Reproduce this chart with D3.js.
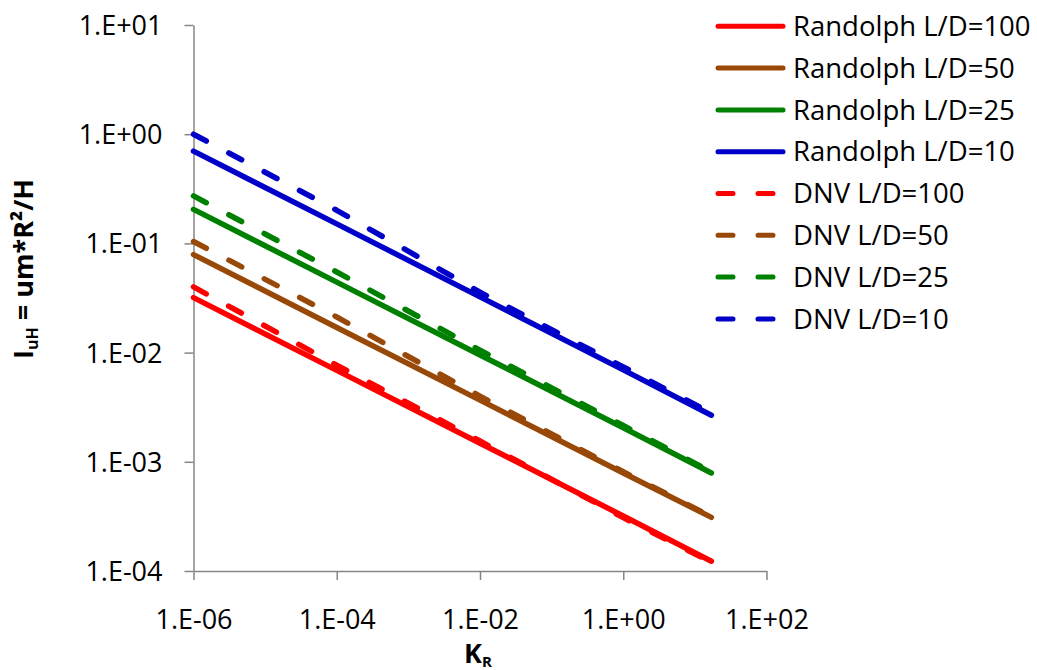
<!DOCTYPE html>
<head>
<meta charset="utf-8">
<style>
body { margin: 0; background: #fff; }
text { font-family: "Open Sans", Carlito, Calibri, sans-serif; fill: #000; }
.axis path, .axis line { stroke: #868686; stroke-width: 1.5; }
.axis text { font-size: 27px; }
.legend text { font-size: 27.5px; }
.title { font-weight: bold; font-size: 27px; }
</style>
</head>
<body>
<script src="https://cdn.jsdelivr.net/npm/d3@7"></script>
<script>

var width = 1037, height = 670;

// K_R values where the curves were read
var kr = [1e-6, 1e-4, 1e-2, 1, 17];

var randolph100 = [0.0319, 0.00687, 0.00148, 0.000319, 0.000123];
var randolph50  = [0.079, 0.0170, 0.00367, 0.00079, 0.000310];
var randolph25  = [0.205, 0.0442, 0.00952, 0.00205, 0.00079];
var randolph10  = [0.70, 0.151, 0.0324, 0.00695, 0.00267];
var dnv100 = [0.040, 0.00767, 0.00155, 0.000308, 0.000120];
var dnv50  = [0.104, 0.0212, 0.00399, 0.00081, 0.000315];
var dnv25  = [0.272, 0.0547, 0.01052, 0.00215, 0.00081];
var dnv10  = [1.0, 0.201, 0.0357, 0.0074, 0.00279];

var seriesNames = ["Randolph L/D=100", "Randolph L/D=50", "Randolph L/D=25", "Randolph L/D=10",
                   "DNV L/D=100", "DNV L/D=50", "DNV L/D=25", "DNV L/D=10"];
var seriesValues = [randolph100, randolph50, randolph25, randolph10, dnv100, dnv50, dnv25, dnv10];
var colors = ["#ff0000", "#984807", "#008000", "#0000c8", "#ff0000", "#984807", "#008000", "#0000c8"];
var dashed = [false, false, false, false, true, true, true, true];

var xTicks = [1e-6, 1e-4, 1e-2, 1, 1e2];
var yTicks = [1e-4, 1e-3, 1e-2, 1e-1, 1, 10];

var svg = d3.select("body").append("svg")
  .attr("width", width)
  .attr("height", height);

var x = d3.scaleLog().domain([1e-6, 1e2]).range([193.5, 766.5]);
var y = d3.scaleLog().domain([1e-4, 10]).range([571, 25]);

// Excel style "1.E+01"
function sci(v) {
  var e = Math.round(Math.log10(v));
  var s = e < 0 ? "-" : "+";
  var a = Math.abs(e);
  return "1.E" + s + (a < 10 ? "0" + a : a);
}

var xAxis = svg.append("g")
  .attr("class", "axis")
  .attr("transform", "translate(0,571)")
  .call(d3.axisBottom(x).tickValues(xTicks).tickFormat(sci).tickSize(9).tickSizeOuter(0));
xAxis.selectAll("text").attr("y", 49).attr("dy", "0.35em");

var yAxis = svg.append("g")
  .attr("class", "axis")
  .attr("transform", "translate(193.5,0)")
  .call(d3.axisLeft(y).tickValues(yTicks).tickFormat(sci).tickSize(9).tickSizeOuter(0).tickPadding(22));
yAxis.selectAll("text").attr("dy", "0.35em");

var line = d3.line()
  .x(function(d) { return x(d[0]); })
  .y(function(d) { return y(d[1]); });

seriesValues.forEach(function(vals, i) {
  var pts = kr.map(function(k, j) { return [k, vals[j]]; });
  svg.append("path")
    .datum(pts)
    .attr("d", line)
    .attr("fill", "none")
    .attr("stroke", colors[i])
    .attr("stroke-width", 5.5)
    .attr("stroke-linecap", "round")
    .attr("stroke-linejoin", "round")
    .attr("stroke-dasharray", dashed[i] ? "14.5,25.5" : null);
});

// legend
var legend = svg.append("g").attr("class", "legend")
  .selectAll("g")
  .data(seriesNames)
  .enter().append("g")
  .attr("transform", function(d, i) { return "translate(0," + (26.3 + i * 41.8) + ")"; });

legend.append("line")
  .attr("x1", 718)
  .attr("x2", 783)
  .attr("stroke", function(d, i) { return colors[i]; })
  .attr("stroke-width", 5)
  .attr("stroke-linecap", "round")
  .attr("stroke-dasharray", function(d, i) { return dashed[i] ? "15,25" : null; });

legend.append("text")
  .attr("x", 793)
  .attr("dy", "0.35em")
  .text(function(d) { return d; });

// axis titles
var xt = svg.append("text").attr("class", "title")
  .attr("x", 478).attr("y", 663).attr("text-anchor", "middle");
xt.append("tspan").text("K");
xt.append("tspan").attr("font-size", "15px").attr("dy", "4").text("R");

var yt = svg.append("text").attr("class", "title")
  .attr("transform", "translate(33,269) rotate(-90)")
  .attr("text-anchor", "middle");
yt.append("tspan").text("I");
yt.append("tspan").attr("font-size", "16px").attr("dy", "5").text("uH");
yt.append("tspan").attr("dy", "-5").text(" = um*R\u00b2/H");

</script>
</body>
